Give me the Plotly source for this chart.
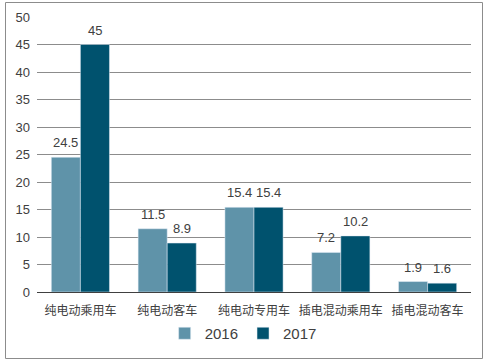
import plotly.graph_objects as go

categories = ["纯电动乘用车", "纯电动客车", "纯电动专用车", "插电混动乘用车", "插电混动客车"]
series_names = ["2016", "2017"]
values_2016 = [24.5, 11.5, 15.4, 7.2, 1.9]
values_2017 = [45, 8.9, 15.4, 10.2, 1.6]
colors = ["#5F93A9", "#00526E"]

W, H = 490, 362
L, R, T, B = 37, 19, 17, 70
pw, ph = W - L - R, H - T - B
bar_px = 29  # bar width in pixels (style)

fig = go.Figure()
annotations = []
for i, (name, vals, c) in enumerate(zip(series_names, [values_2016, values_2017], colors)):
    fig.add_trace(go.Bar(x=categories, y=vals, name=name, marker_color=c))
    for cat, v in zip(categories, vals):
        annotations.append(dict(
            x=cat, y=v, xref="x", yref="y", text=str(v), showarrow=False,
            xshift=(i - 0.5) * bar_px, yshift=5, yanchor="bottom",
            font=dict(size=13, color="#404040"),
        ))

def px(x):
    return (x - L) / pw

def py(y):
    return (H - B - y) / ph

fig.update_layout(
    width=W, height=H,
    margin=dict(l=L, r=R, t=T, b=B, autoexpand=False),
    paper_bgcolor="white", plot_bgcolor="white",
    barmode="group", bargap=0.33, bargroupgap=0,
    font=dict(family="Liberation Sans, Noto Sans CJK SC, sans-serif", size=12, color="#404040"),
    xaxis=dict(showgrid=False, showline=True, linecolor="#404040", linewidth=1, automargin=False,
               ticks="", ticklabelstandoff=8,
               tickfont=dict(size=12, color="#404040", family="Noto Sans CJK SC, sans-serif")),
    yaxis=dict(range=[0, 50], dtick=5, showgrid=True, gridcolor="#8C8C8C", gridwidth=1,
               automargin=False, ticklabelstandoff=6,
               zeroline=False, ticks="", tickfont=dict(size=13, color="#404040")),
    legend=dict(orientation="h", x=0.475, xanchor="center", y=py(350), yanchor="bottom",
                font=dict(size=15, color="#404040"), itemwidth=30, traceorder="normal"),
    showlegend=True,
    annotations=annotations,
    shapes=[dict(type="rect", xref="paper", yref="paper",
                 x0=px(5.5), x1=px(482.5), y0=py(358.5), y1=py(2.5),
                 line=dict(color="#8C8C8C", width=1), fillcolor="rgba(0,0,0,0)")],
)

fig.write_html("out.html", config={"displayModeBar": False},
               post_script="document.body.style.margin='0';document.body.style.overflow='hidden';")
